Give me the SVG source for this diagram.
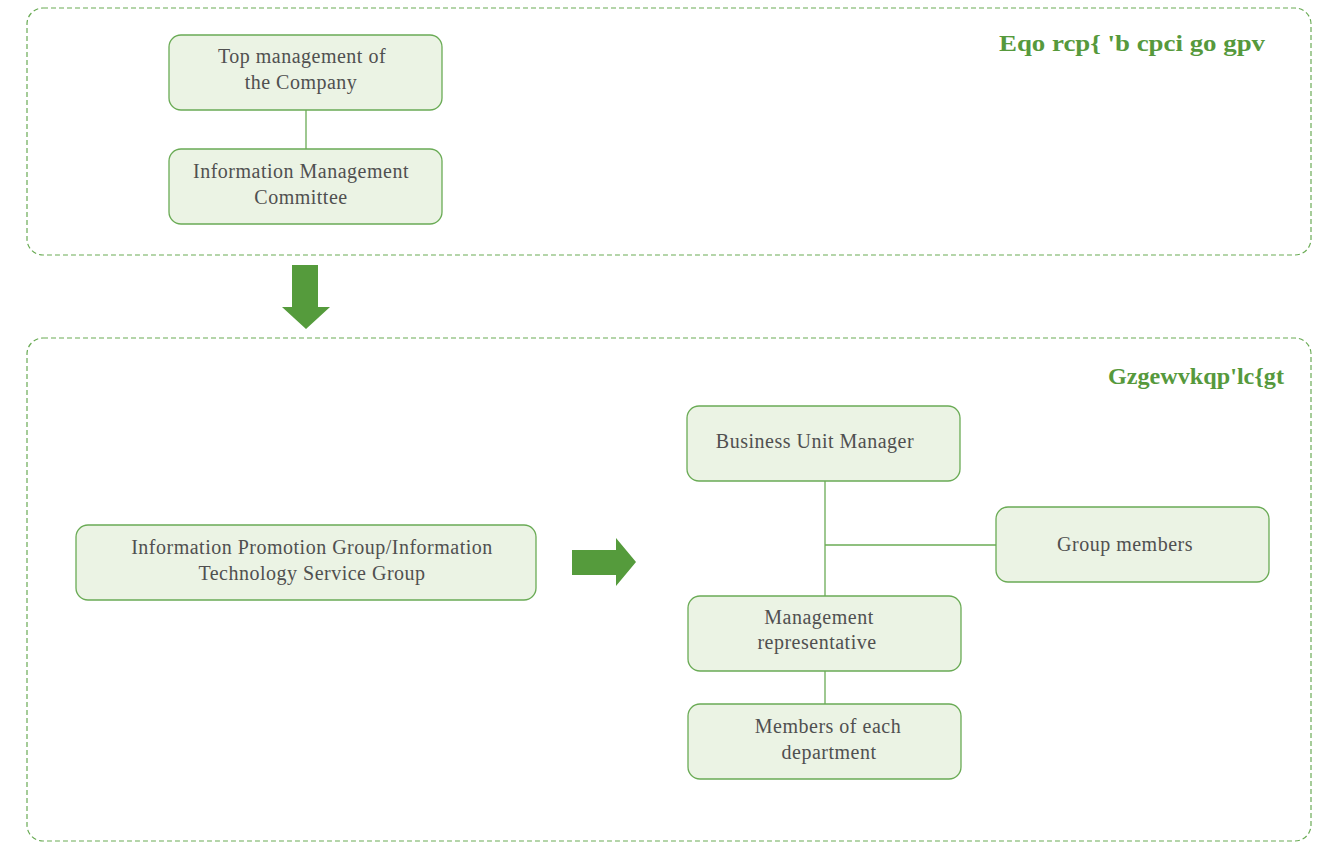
<svg xmlns="http://www.w3.org/2000/svg" width="1325" height="842" viewBox="0 0 1325 842">
<style>
.box{fill:#ebf3e4;stroke:#6aab55;stroke-width:1.3}
.frame{fill:none;stroke:#6aab55;stroke-width:1.2;stroke-dasharray:5 3}
.t{font-family:"Liberation Serif",serif;font-size:20px;letter-spacing:0.5px;fill:#505050;text-anchor:middle}
.h{font-family:"Liberation Serif",serif;font-size:24px;font-weight:bold;fill:#56993c}
.ln{stroke:#6aab55;stroke-width:1.3;fill:none}
.arr{fill:#559b3c}
</style>
<rect class="frame" x="27" y="8" width="1284" height="247" rx="16"/>
<rect class="frame" x="27" y="338" width="1284" height="503" rx="16"/>
<text class="h" x="999" y="51" textLength="266" lengthAdjust="spacingAndGlyphs">Eqo rcp{ 'b cpci go gpv</text>
<text class="h" x="1108" y="384" textLength="176" lengthAdjust="spacingAndGlyphs">Gzgewvkqp'lc{gt</text>
<g id="connectors">
<line class="ln" x1="306" y1="110" x2="306" y2="149"/>
<line class="ln" x1="825" y1="481" x2="825" y2="596"/>
<line class="ln" x1="825" y1="545" x2="996" y2="545"/>
<line class="ln" x1="825" y1="671" x2="825" y2="704"/>
<polygon class="arr" points="292,265 318,265 318,307 330,307 306,329 282,307 292,307"/>
<polygon class="arr" points="572,550 616,550 616,538 636,562 616,586 616,575 572,575"/>
</g>
<g id="n1"><rect class="box" x="169" y="35" width="273" height="75" rx="12"/><text class="t" x="302" y="63">Top management of</text><text class="t" x="301" y="89">the Company</text></g>
<g id="n2"><rect class="box" x="169" y="149" width="273" height="75" rx="12"/><text class="t" x="301" y="178">Information Management</text><text class="t" x="301" y="204">Committee</text></g>
<g id="n3"><rect class="box" x="76" y="525" width="460" height="75" rx="12"/><text class="t" x="312" y="554">Information Promotion Group/Information</text><text class="t" x="312" y="580">Technology Service Group</text></g>
<g id="n4"><rect class="box" x="687" y="406" width="273" height="75" rx="12"/><text class="t" x="815" y="448">Business Unit Manager</text></g>
<g id="n5"><rect class="box" x="996" y="507" width="273" height="75" rx="12"/><text class="t" x="1125" y="551">Group members</text></g>
<g id="n6"><rect class="box" x="688" y="596" width="273" height="75" rx="12"/><text class="t" x="819" y="624">Management</text><text class="t" x="817" y="649">representative</text></g>
<g id="n7"><rect class="box" x="688" y="704" width="273" height="75" rx="12"/><text class="t" x="828" y="733">Members of each</text><text class="t" x="829" y="759">department</text></g>
</svg>
